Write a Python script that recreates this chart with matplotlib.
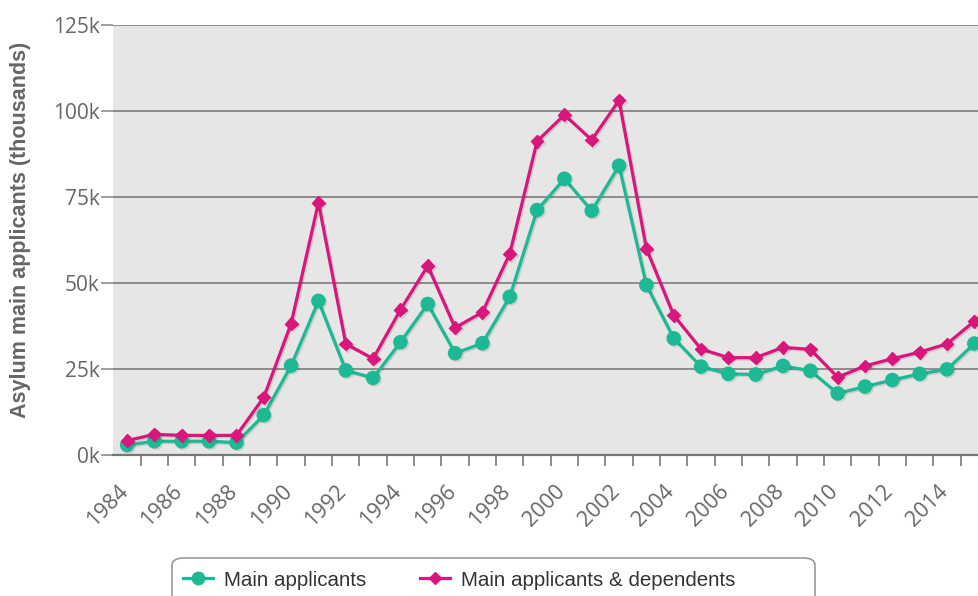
import matplotlib
matplotlib.use("Agg")
import matplotlib.pyplot as plt
import matplotlib.patheffects as pe
from matplotlib.patches import FancyBboxPatch
from matplotlib.lines import Line2D
from matplotlib.transforms import ScaledTranslation
import numpy as np

years = list(range(1984, 2016))
main_applicants = [
    2.9, 4.0, 4.0, 4.0, 3.6, 11.6, 26.0, 44.8, 24.6, 22.4,
    32.8, 43.9, 29.6, 32.5, 46.0, 71.2, 80.3, 71.0, 84.1, 49.4,
    33.9, 25.7, 23.6, 23.4, 25.9, 24.5, 17.9, 19.9, 21.8, 23.6,
    24.9, 32.4,
]
with_dependents = [
    4.2, 6.0, 5.7, 5.7, 5.7, 16.8, 38.2, 73.4, 32.3, 28.0,
    42.2, 55.0, 37.0, 41.5, 58.5, 91.2, 98.9, 91.6, 103.1, 60.0,
    40.6, 30.8, 28.3, 28.3, 31.3, 30.7, 22.6, 25.9, 28.0, 29.9,
    32.3, 38.9,
]
ytick_vals = [0, 25, 50, 75, 100, 125]
ytick_labels = ["0k", "25k", "50k", "75k", "100k", "125k"]

TEAL = "#1db995"
PINK = "#d8167b"
GRID = "#8c8c8c"
TEXT = "#666666"

W, H = 979, 596
fig = plt.figure(figsize=(W / 100, H / 100), dpi=100)
fig.patch.set_facecolor("white")

# plot area in pixels (right edge runs past the crop, like the source)
left_px, right_px, top_px, bot_px = 113.5, 988.0, 25.0, 455.0
ax = fig.add_axes([left_px / W, 1 - bot_px / H,
                   (right_px - left_px) / W, (bot_px - top_px) / H])
ax.set_facecolor("#e6e6e6")

x = np.arange(len(years))
shadow = [pe.SimpleLineShadow(offset=(1, -1), alpha=0.12, shadow_color="k"),
          pe.Normal()]
ax.plot(x, main_applicants, color=TEAL, lw=2.3, marker="o", ms=9.5,
        zorder=3, path_effects=shadow, label="Main applicants")
ax.plot(x, with_dependents, color=PINK, lw=2.3, marker="D", ms=6.5,
        zorder=4, path_effects=shadow, label="Main applicants & dependents")

ax.set_xlim(-0.5, len(years) - 0.5)
ax.set_ylim(0, 125)

# y axis
ax.set_yticks(ytick_vals)
ax.set_yticklabels(ytick_labels, fontfamily="Open Sans", fontsize=15,
                   color=TEXT)
ax.tick_params(axis="y", length=9, width=1.2, color=GRID, pad=1)
ax.yaxis.grid(True, color=GRID, lw=1.4)
ax.set_axisbelow(True)

# x axis: labels at even-year centres, tick marks at category edges
ax.set_xticks(x[::2])
ax.set_xticklabels([str(y) for y in years[::2]], fontfamily="Open Sans",
                   fontsize=15.5, color=TEXT, rotation=45, ha="right",
                   va="center", rotation_mode="anchor")
ax.tick_params(axis="x", which="major", length=0, pad=24)
shift = ScaledTranslation(-2.5 / 100, 0, fig.dpi_scale_trans)
for lbl in ax.get_xticklabels():
    lbl.set_transform(lbl.get_transform() + shift)
ax.set_xticks(np.arange(len(years)) + 0.5, minor=True)
ax.tick_params(axis="x", which="minor", length=8, width=1.2, color="#777777")

for side in ["top", "right", "left"]:
    ax.spines[side].set_visible(False)
ax.spines["bottom"].set_color("#777777")
ax.spines["bottom"].set_linewidth(1.6)

fig.text(21 / W, 1 - 230 / H, "Asylum main applicants (thousands)",
         rotation=90, ha="center", va="center", fontsize=15.5,
         fontweight="bold", color=TEXT, fontfamily="Liberation Sans")

# legend box
box = FancyBboxPatch((172 / W, (596 - 610) / H), (815 - 172) / W, 52 / H,
                     boxstyle="round,pad=0,rounding_size=0.012",
                     transform=fig.transFigure, fc="white", ec="#999999",
                     lw=1.2, clip_on=False)
fig.patches.append(box)
handles = [
    Line2D([], [], color=TEAL, lw=2.3, marker="o", ms=9),
    Line2D([], [], color=PINK, lw=2.3, marker="D", ms=6.5),
]
fig.legend(handles, ["Main applicants", "Main applicants & dependents"],
           loc="center left", bbox_to_anchor=(183 / W, 1 - 580 / H),
           ncol=2, frameon=False, handlelength=1.45, handletextpad=0.55,
           columnspacing=2.6, borderpad=0, borderaxespad=0,
           labelcolor="#333333",
           prop={"family": "Liberation Sans", "size": 14.8})

fig.savefig("out.png", dpi=100)
